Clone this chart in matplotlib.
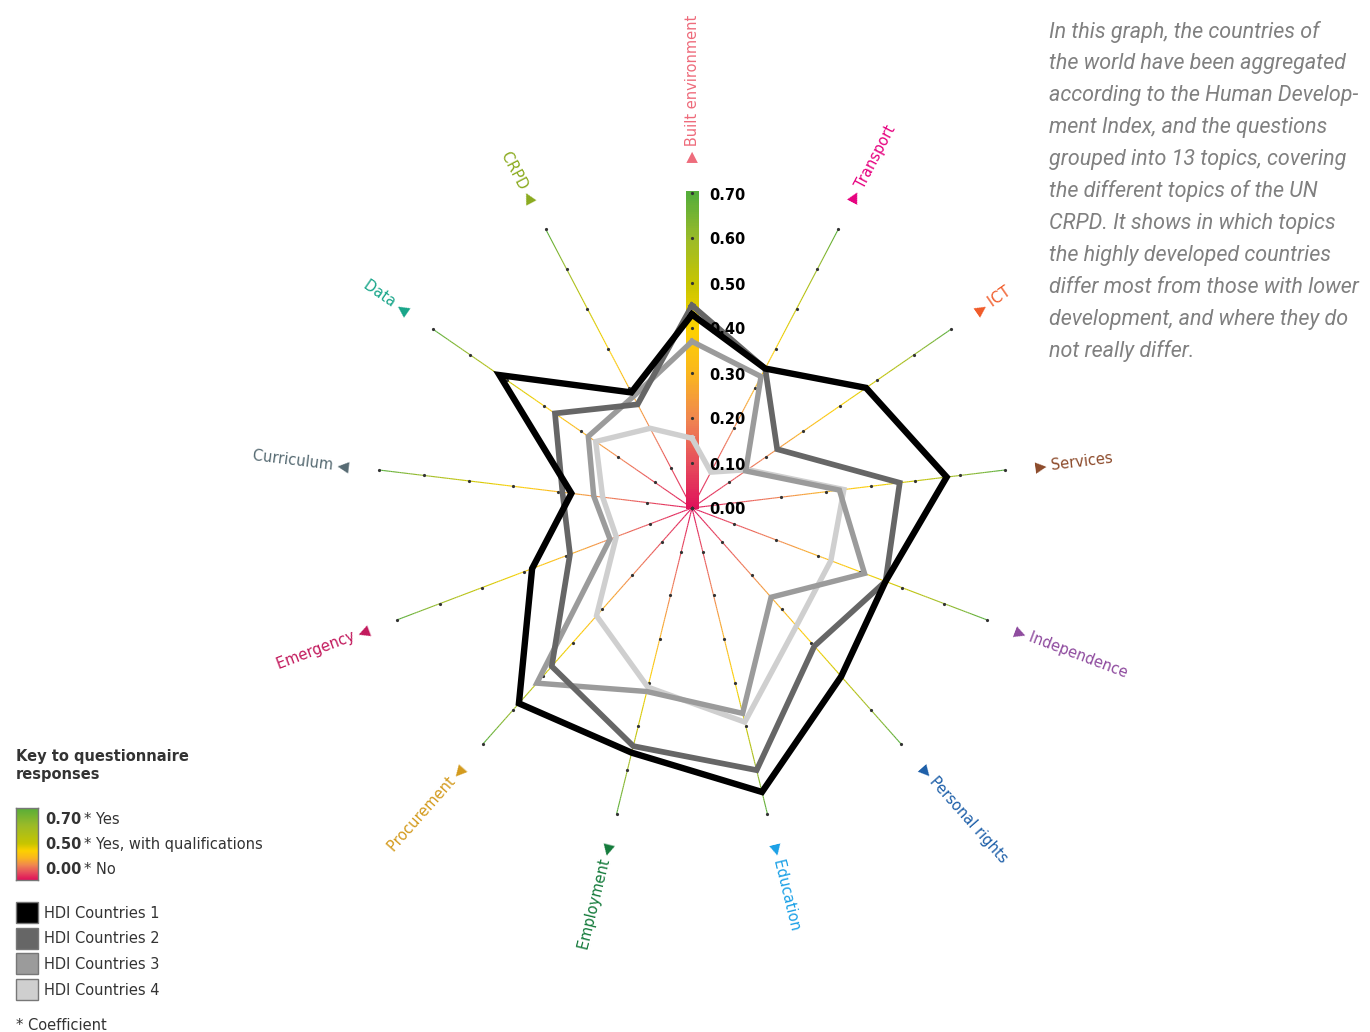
import numpy as np
import matplotlib
matplotlib.use("Agg")
import matplotlib.pyplot as plt
from matplotlib.collections import LineCollection
from matplotlib.colors import LinearSegmentedColormap
from matplotlib.patches import Rectangle

# ---------------- data ----------------
topics = ["Built environment", "Transport", "ICT", "Services", "Independence",
          "Personal rights", "Education", "Employment", "Procurement",
          "Emergency", "Curriculum", "Data", "CRPD"]
topic_colors = ["#ee6b7b", "#e6007e", "#f05a28", "#8c4a2a", "#8e4a9e",
                "#1c5ea8", "#1aa0e6", "#137a3a", "#d39a1c", "#c2185b",
                "#566a72", "#17a589", "#8aaa1e"]

hdi1 = [0.43, 0.35, 0.47, 0.57, 0.46, 0.50, 0.65, 0.56, 0.58, 0.38, 0.27, 0.52, 0.29]
hdi2 = [0.45, 0.35, 0.23, 0.465, 0.46, 0.41, 0.60, 0.545, 0.47, 0.29, 0.29, 0.37, 0.26]
hdi3 = [0.37, 0.33, 0.145, 0.33, 0.41, 0.265, 0.47, 0.42, 0.52, 0.195, 0.22, 0.28, 0.28]
hdi4 = [0.155, 0.09, 0.15, 0.34, 0.33, 0.35, 0.49, 0.41, 0.32, 0.18, 0.20, 0.26, 0.20]

series_names = ["HDI Countries 1", "HDI Countries 2", "HDI Countries 3", "HDI Countries 4"]
series_colors = ["#000000", "#666666", "#9b9b9b", "#cfcfcf"]

tick_values = [0.0, 0.1, 0.2, 0.3, 0.4, 0.5, 0.6, 0.7]
tick_labels = ["0.00", "0.10", "0.20", "0.30", "0.40", "0.50", "0.60", "0.70"]

key_values = ["0.70", "0.50", "0.00"]
key_texts = ["* Yes", "* Yes, with qualifications", "* No"]

note_lines = ["In this graph, the countries of",
              "the world have been aggregated",
              "according to the Human Develop-",
              "ment Index, and the questions",
              "grouped into 13 topics, covering",
              "the different topics of the UN",
              "CRPD. It shows in which topics",
              "the highly developed countries",
              "differ most from those with lower",
              "development, and where they do",
              "not really differ."]

# ---------------- figure ----------------
W, H = 1370, 1032
fig = plt.figure(figsize=(W / 100, H / 100), dpi=100)
fig.patch.set_facecolor("white")


def fx(x):
    return x / W


def fy(y):
    return 1 - y / H


cx, cy = 692, 508
px_per_unit = 450
rmax = 0.8
R = rmax * px_per_unit
ax = fig.add_axes([(cx - R) / W, (H - cy - R) / H, 2 * R / W, 2 * R / H],
                  projection="polar")
ax.set_theta_zero_location("N")
ax.set_theta_direction(-1)
ax.set_ylim(0, rmax)
ax.set_axis_off()

vmax = tick_values[-1]
cmap = LinearSegmentedColormap.from_list(
    "resp",
    [(0.0, "#e0115a"), (0.1 / 0.7, "#e64c5c"), (0.2 / 0.7, "#f08650"),
     (0.3 / 0.7, "#fab61f"), (0.4 / 0.7, "#fdd100"), (0.5 / 0.7, "#c8c500"),
     (0.6 / 0.7, "#9cbb28"), (1.0, "#55ad3a")])

n = len(topics)
angles = np.arange(n) * 2 * np.pi / n

# axis lines with gradient
rr = np.linspace(0, vmax, 141)
mids = (rr[:-1] + rr[1:]) / 2
for i, th in enumerate(angles):
    if i == 0:
        segs = [[(th, rr[k]), (th, min(rr[k + 1] + 0.004, vmax + 0.006))]
                for k in range(len(rr) - 1)]
        lc = LineCollection(segs, colors=cmap(mids / vmax), linewidths=8.0,
                            capstyle="butt", antialiaseds=False, zorder=2)
    else:
        segs = [[(th, rr[k]), (th, rr[k + 1])] for k in range(len(rr) - 1)]
        lc = LineCollection(segs, colors=cmap(mids / vmax), linewidths=0.8,
                            capstyle="butt", zorder=2)
    ax.add_collection(lc)
    ax.plot([th] * len(tick_values), tick_values, "o", ms=2.3,
            color="#333333", mew=0, zorder=3)

# tick labels
for v, lab in zip(tick_values, tick_labels):
    ax.annotate(lab, xy=(0, v), xytext=(17, -2), textcoords="offset pixels",
                ha="left", va="center", fontsize=10.5, fontweight="bold",
                color="#000000", zorder=10)

# series
series = [hdi1, hdi2, hdi3, hdi4]
widths = [4.6, 4.1, 3.9, 3.9]
th_closed = np.concatenate([angles, angles[:1]])
for k in range(3, -1, -1):
    vals = np.array(series[k] + series[k][:1])
    ax.plot(th_closed, vals, color=series_colors[k], lw=widths[k],
            solid_joinstyle="miter", zorder=5 + (3 - k))

# topic labels
for th, name, col in zip(angles, topics, topic_colors):
    phi = 90 - np.degrees(th)
    phi = (phi + 180) % 360 - 180
    if np.cos(np.radians(phi)) >= -1e-6:
        rot, txt, ha = phi, "\u25B6 " + name, "left"
    else:
        rot, txt, ha = phi + 180, name + " \u25C0", "right"
    ax.text(th, 0.768, txt, rotation=rot, rotation_mode="anchor", ha=ha,
            va="center", color=col, fontsize=10.5, clip_on=False)

# ---------------- note text ----------------
for k, line in enumerate(note_lines):
    fig.text(fx(1049), fy(32 + 31.9 * k), line, ha="left", va="center",
             fontsize=15.5, style="italic", fontweight="normal", color="#808080",
             family=["Roboto", "DejaVu Sans"])

# ---------------- key ----------------
fig.text(fx(16), fy(757), "Key to questionnaire", fontsize=10.5,
         fontweight="bold", color="#333333", ha="left", va="center")
fig.text(fx(16), fy(775), "responses", fontsize=10.5,
         fontweight="bold", color="#333333", ha="left", va="center")

gax = fig.add_axes([fx(16), fy(880), 22 / W, 72 / H])
pos = np.linspace(0, 1, 200)
key_nums = [float(v) for v in key_values][::-1]  # 0.00, 0.50, 0.70
vals = np.interp(pos, [0, 0.5, 1], key_nums)
gax.imshow(vals[:, None], cmap=cmap, vmin=0, vmax=vmax, aspect="auto",
           origin="lower", extent=[0, 1, 0, 1])
gax.set_xticks([])
gax.set_yticks([])
for s in gax.spines.values():
    s.set_color("#777777")
    s.set_linewidth(1)

for k, (v, t) in enumerate(zip(key_values, key_texts)):
    yy = 819 + 25.5 * k
    fig.text(fx(45), fy(yy), v, fontsize=10.5, fontweight="bold",
             color="#333333", ha="left", va="center")
    fig.text(fx(84), fy(yy), t, fontsize=10.5, color="#333333",
             ha="left", va="center")

for k, (name, col) in enumerate(zip(series_names, series_colors)):
    top = 902 + 25.7 * k
    fig.add_artist(Rectangle((fx(16), fy(top + 21)), 22 / W, 21 / H,
                             transform=fig.transFigure, facecolor=col,
                             edgecolor="#777777", lw=1))
    fig.text(fx(44), fy(top + 11), name, fontsize=10.5, color="#333333",
             ha="left", va="center")

fig.text(fx(16), fy(1025), "* Coefficient", fontsize=10.5, color="#333333",
         ha="left", va="center")

fig.savefig("out.png", dpi=100, facecolor="white")
